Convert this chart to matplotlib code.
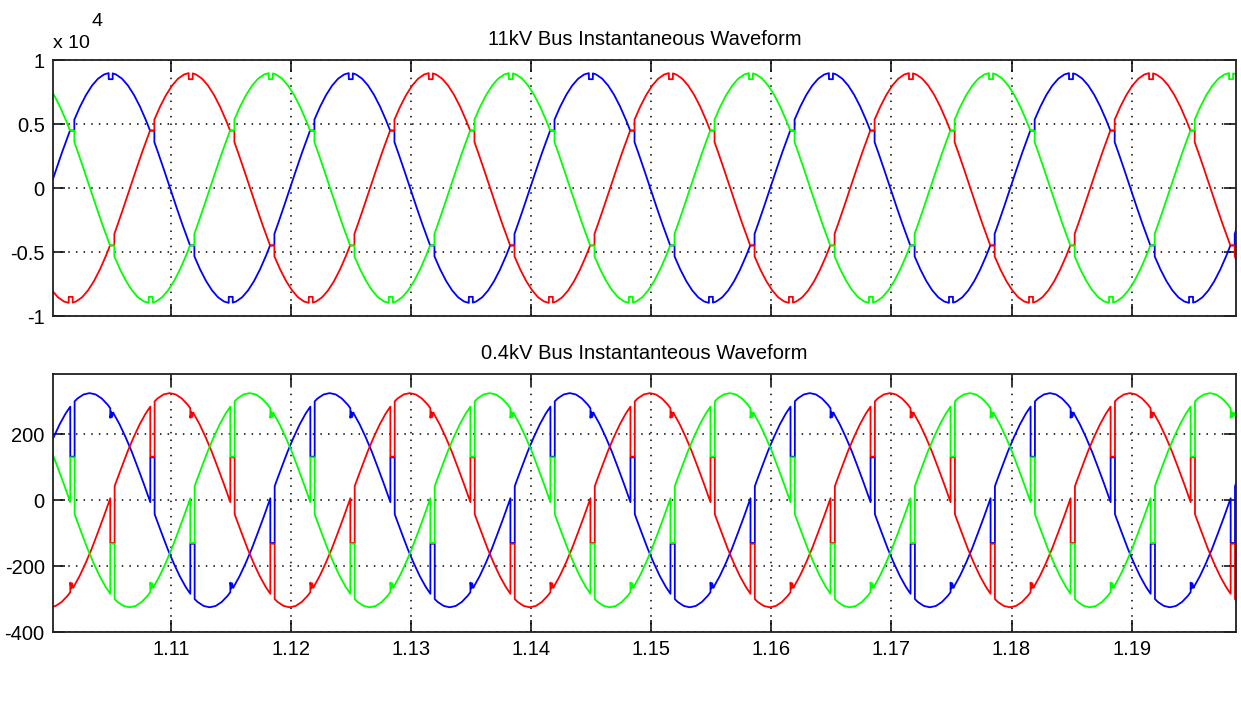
import matplotlib.pyplot as plt
import numpy as np

plt.rcParams["font.family"] = ["Liberation Sans", "DejaVu Sans"]
plt.rcParams["axes.unicode_minus"] = False

# One 20 ms cycle of the phase drawn in blue.
# Angle in degrees from that phase's rising zero crossing, values in volts.
hv_angle = [0, 9, 18, 27, 30, 36.5, 36.5, 45, 54, 63, 72, 81, 88, 88, 94, 94,
            99, 108, 117, 126, 135, 144, 150, 156.5, 156.5, 162, 171,
            180, 189, 198, 207, 210, 216.5, 216.5, 225, 234, 243, 252, 261, 268, 268, 274, 274,
            279, 288, 297, 306, 315, 324, 330, 336.5, 336.5, 342, 351]
hv_volts = [0, 1405, 2775, 4077, 4490, 4480, 5340, 6350, 7265, 8001, 8540, 8869, 8975, 8500, 8500, 8955,
            8869, 8540, 8001, 7265, 6350, 5278, 4490, 4480, 3580, 2775, 1405,
            0, -1405, -2775, -4077, -4490, -4480, -5340, -6350, -7265, -8001, -8540, -8869, -8975, -8500, -8500, -8955,
            -8869, -8540, -8001, -7265, -6350, -5278, -4490, -4480, -3580, -2775, -1405]

lv_angle = [0, 1, 1, 7.5, 7.5, 9, 18, 27, 36, 45, 54, 61, 61, 67.5, 67.5, 72, 81, 90, 99, 108, 117,
            121, 121, 122.5, 123.5, 125.5, 126, 135, 144, 153, 162, 171,
            180, 181, 181, 187.5, 187.5, 189, 198, 207, 216, 225, 234, 241, 241, 247.5, 247.5, 252, 261, 270, 279, 288, 297,
            301, 301, 302.5, 303.5, 305.5, 306, 315, 324, 333, 342, 351]
lv_volts = [0, 6, -130, -130, 42, 51, 100, 148, 191, 230, 263, 284, 132, 132, 300, 309, 321, 325, 321, 309, 290,
            279, 250, 268, 252, 266, 263, 230, 191, 148, 100, 51,
            0, -6, 130, 130, -42, -51, -100, -148, -191, -230, -263, -284, -132, -132, -300, -309, -321, -325, -321, -309, -290,
            -279, -250, -268, -252, -266, -263, -230, -191, -148, -100, -51]

hv_zero_time = 1.0999   # s, rising zero of the blue phase, 11 kV bus
lv_zero_time = 1.0982   # s, rising zero of the blue phase, 0.4 kV bus
cycle = 0.02            # s, 50 Hz

# same cycle for every phase, 120 deg apart (red lags blue, green leads)
phase_colors = ["blue", "red", "green"]
phase_lag_deg = [0, 120, -120]
line_rgb = {"blue": (0, 0, 1), "red": (1, 0, 0), "green": (0, 1, 0)}

x_ticks = [1.11, 1.12, 1.13, 1.14, 1.15, 1.16, 1.17, 1.18, 1.19]
hv_ticks = [-1e4, -0.5e4, 0, 0.5e4, 1e4]
hv_tick_labels = ["-1", "-0.5", "0", "0.5", "1"]
lv_ticks = [-400, -200, 0, 200]


def three_phase(angle, volts, zero_time, n_cycles=8):
    angle = np.asarray(angle, dtype=float)
    volts = np.asarray(volts, dtype=float)
    traces = []
    for lag in phase_lag_deg:
        t = np.concatenate([zero_time + (angle + lag) / 360 * cycle + k * cycle
                            for k in range(-1, n_cycles - 1)])
        traces.append((t, np.tile(volts, n_cycles)))
    return traces


def style_axes(ax):
    ax.set_xlim(1.10015, 1.1987)
    ax.set_xticks(x_ticks)
    ax.grid(True, color="black", linestyle=(0, (1, 4)), linewidth=1.1)
    ax.tick_params(direction="in", length=8.5, width=1.1, top=True, right=True,
                   labelsize=14.5, pad=6, colors="black")
    for spine in ax.spines.values():
        spine.set_linewidth(1.3)
        spine.set_color("#202020")


fig = plt.figure(figsize=(12.41, 7.22), dpi=100)
ax_hv = fig.add_axes([53 / 1241, 1 - 316 / 722, 1183 / 1241, 256 / 722])
ax_lv = fig.add_axes([53 / 1241, 1 - 632 / 722, 1183 / 1241, 258 / 722])

for ax, (angle, volts, zero) in zip(
        [ax_hv, ax_lv],
        [(hv_angle, hv_volts, hv_zero_time), (lv_angle, lv_volts, lv_zero_time)]):
    for color, (t, v) in zip(phase_colors, three_phase(angle, volts, zero)):
        ax.plot(t, v, color=line_rgb[color], linewidth=1.3)
    style_axes(ax)

ax_hv.set_ylim(-1e4, 1e4)
ax_hv.set_yticks(hv_ticks)
ax_hv.set_yticklabels(hv_tick_labels)
ax_hv.tick_params(labelbottom=False)
ax_hv.set_title("11kV Bus Instantaneous Waveform", fontsize=14.5, pad=11)
fig.text(53 / 1241, 1 - 48 / 722, "x 10", fontsize=14, ha="left", va="baseline")
fig.text(92 / 1241, 1 - 26 / 722, "4", fontsize=14, ha="left", va="baseline")

ax_lv.set_ylim(-400, 383)
ax_lv.set_yticks(lv_ticks)
ax_lv.set_title("0.4kV Bus Instantanteous Waveform", fontsize=14.5, pad=11)

fig.savefig("out.png", dpi=100)
